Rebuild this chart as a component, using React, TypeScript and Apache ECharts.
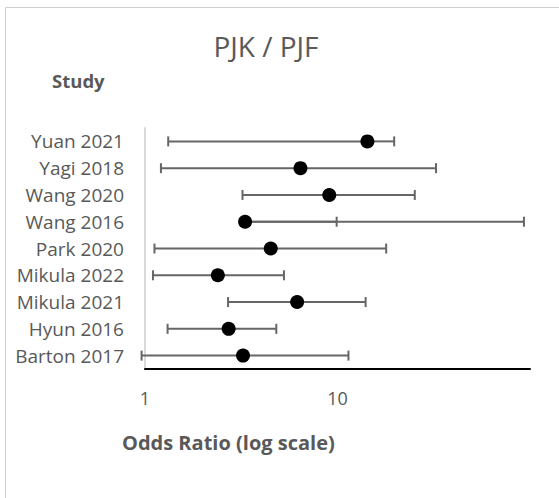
import React, { useEffect, useRef } from "react";
import * as echarts from "echarts";

const studies = [
  "Barton 2017",
  "Hyun 2016",
  "Mikula 2021",
  "Mikula 2022",
  "Park 2020",
  "Wang 2016",
  "Wang 2020",
  "Yagi 2018",
  "Yuan 2021",
];
const oddsRatio = [3.23, 2.72, 6.17, 2.39, 4.5, 3.31, 9.06, 6.42, 14.3];
const lowerCI = [0.96, 1.31, 2.7, 1.1, 1.12, 9.9, 3.21, 1.21, 1.32];
const upperCI = [11.4, 4.81, 14.0, 5.27, 17.9, 93, 25.2, 32.5, 19.7];
const xTickLabels = ["1", "10"];

const FONT = "'Open Sans', sans-serif";
const TEXT = "#595959";

export default function App() {
  const ref = useRef<HTMLDivElement>(null);
  useEffect(() => {
    if (!ref.current) return;
    const chart = echarts.init(ref.current, null, { renderer: "svg" });
    const barData = studies.map((_, i) => [i, lowerCI[i], oddsRatio[i], upperCI[i]]);
    const pointData = studies.map((_, i) => [oddsRatio[i], i]);
    chart.setOption({
      animation: false,
      backgroundColor: "#ffffff",
      grid: { left: 145, right: 29, top: 128, bottom: 129, containLabel: false },
      xAxis: {
        type: "log",
        logBase: 10,
        min: 1,
        max: 100,
        axisLine: { show: true, lineStyle: { color: "#000000", width: 2 } },
        axisTick: { show: false },
        splitLine: { show: false },
        axisLabel: {
          margin: 20,
          fontSize: 18,
          fontFamily: FONT,
          color: TEXT,
          formatter: (v: number) => {
            const s = String(Math.round(v));
            return xTickLabels.indexOf(s) >= 0 ? s : "";
          },
        },
      },
      yAxis: {
        type: "category",
        data: studies,
        axisLine: { show: true, lineStyle: { color: "#d9d9d9", width: 2 } },
        axisTick: { show: false },
        splitLine: { show: false },
        axisLabel: {
          margin: 21,
          fontSize: 19,
          fontFamily: FONT,
          color: TEXT,
        },
      },
      graphic: [
        {
          type: "rect",
          shape: { x: 5.5, y: 7.5, width: 700, height: 700 },
          style: { fill: "none", stroke: "#d0d0d0", lineWidth: 1 },
          silent: true,
        },
        {
          type: "text",
          x: 266,
          y: 46,
          style: {
            text: "PJK / PJF",
            fontSize: 28,
            fontFamily: FONT,
            fill: TEXT,
            textAlign: "center",
            textVerticalAlign: "middle",
          },
        },
        {
          type: "text",
          x: 52,
          y: 80,
          style: {
            text: "Study",
            fontSize: 18.5,
            fontWeight: "bold",
            fontFamily: FONT,
            fill: TEXT,
            textAlign: "left",
            textVerticalAlign: "middle",
          },
        },
        {
          type: "text",
          x: 122,
          y: 442,
          style: {
            text: "Odds Ratio (log scale)",
            fontSize: 20,
            fontWeight: "bold",
            fontFamily: FONT,
            fill: TEXT,
            textAlign: "left",
            textVerticalAlign: "middle",
          },
        },
      ],
      series: [
        {
          type: "custom",
          data: barData,
          clip: false,
          renderItem: (params: any, api: any) => {
            const cat = api.value(0);
            const lo = api.coord([api.value(1), cat]);
            const mid = api.coord([api.value(2), cat]);
            const hi = api.coord([api.value(3), cat]);
            const y = mid[1];
            const cap = 5;
            const style = { stroke: "#666666", lineWidth: 2 };
            return {
              type: "group",
              children: [
                { type: "line", shape: { x1: mid[0], y1: y, x2: lo[0], y2: y }, style },
                { type: "line", shape: { x1: mid[0], y1: y, x2: hi[0], y2: y }, style },
                { type: "line", shape: { x1: lo[0], y1: y - cap, x2: lo[0], y2: y + cap }, style },
                { type: "line", shape: { x1: hi[0], y1: y - cap, x2: hi[0], y2: y + cap }, style },
              ],
            };
          },
          z: 2,
        },
        {
          type: "scatter",
          data: pointData,
          symbol: "circle",
          symbolSize: 14,
          itemStyle: { color: "#000000", opacity: 1 },
          emphasis: { disabled: true },
          z: 3,
        },
      ],
    });
    return () => chart.dispose();
  }, []);
  return (
    <div
      ref={ref}
      style={{ position: "fixed", left: 0, top: 0, width: 559, height: 498 }}
    />
  );
}
